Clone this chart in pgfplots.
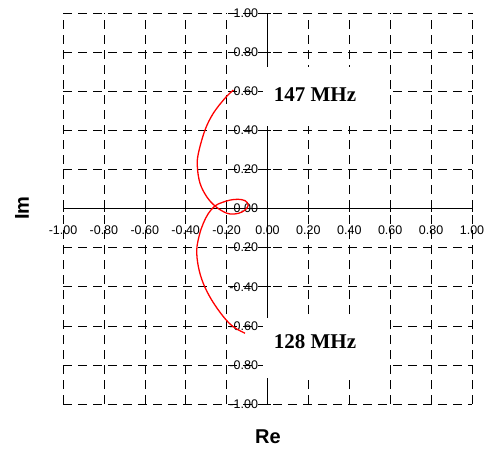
\documentclass[border=0pt]{standalone}
\usepackage{pgfplots}
\pgfplotsset{compat=1.18}
\usepackage{fontspec}
\setmainfont{Liberation Sans}
\newfontfamily\timesfont{Liberation Serif}
\begin{document}
\begin{tikzpicture}[x=1pt,y=1pt]
\useasboundingbox (0,0) rectangle (497,450);
\begin{axis}[
  at={(63pt,46pt)}, anchor=south west,
  scale only axis, width=409pt, height=391pt,
  xmin=-1, xmax=1, ymin=-1, ymax=1,
  axis lines=middle,
  axis line style={-, black, line width=0.6pt},
  xtick={-1,-0.8,...,1.01}, ytick={-1,-0.8,...,1.01},
  hide obscured x ticks=false, hide obscured y ticks=false,
  grid=major,
  grid style={black, line width=0.5pt, dash pattern=on 9pt off 6pt},
  tick align=center, major tick length=6pt,
  tick style={black, line width=0.5pt},
  xticklabel style={font=\fontsize{12.5}{14}\selectfont, yshift=-11pt},
  yticklabel style={font=\fontsize{12.5}{14}\selectfont, xshift=-3pt},
  xticklabel={\pgfmathprintnumber[assume math mode=true,fixed,fixed zerofill,precision=2]{\tick}},
  yticklabel={\pgfmathprintnumber[assume math mode=true,fixed,fixed zerofill,precision=2]{\tick}},
  clip=false,
]
\addplot[red, line width=1.3pt, smooth, tension=0.6] coordinates {
(-0.167, 0.606)
(-0.208, 0.564)
(-0.265, 0.487)
(-0.306, 0.400)
(-0.338, 0.282)
(-0.343, 0.214)
(-0.330, 0.129)
(-0.297, 0.060)
(-0.257, 0.013)
(-0.216, -0.016)
(-0.183, -0.028)
(-0.143, -0.025)
(-0.110, -0.008)
(-0.094, 0.018)
(-0.110, 0.040)
(-0.143, 0.047)
(-0.183, 0.043)
(-0.224, 0.030)
(-0.257, 0.013)
(-0.289, -0.025)
(-0.314, -0.076)
(-0.333, -0.135)
(-0.346, -0.212)
(-0.338, -0.298)
(-0.314, -0.383)
(-0.273, -0.468)
(-0.216, -0.553)
(-0.167, -0.605)
(-0.110, -0.638)
};
\end{axis}
\fill[white] (263,324) rectangle (388,383);
\fill[white] (263,72) rectangle (388,132);
\node[font=\timesfont\bfseries\fontsize{21}{24}\selectfont] at (315,355) {147 MHz};
\node[font=\timesfont\bfseries\fontsize{21}{24}\selectfont] at (315,108) {128 MHz};
\node[font=\bfseries\fontsize{20}{24}\selectfont] at (268,13) {Re};
\node[font=\bfseries\fontsize{20}{24}\selectfont, rotate=90] at (22,242) {Im};
\end{tikzpicture}
\end{document}
